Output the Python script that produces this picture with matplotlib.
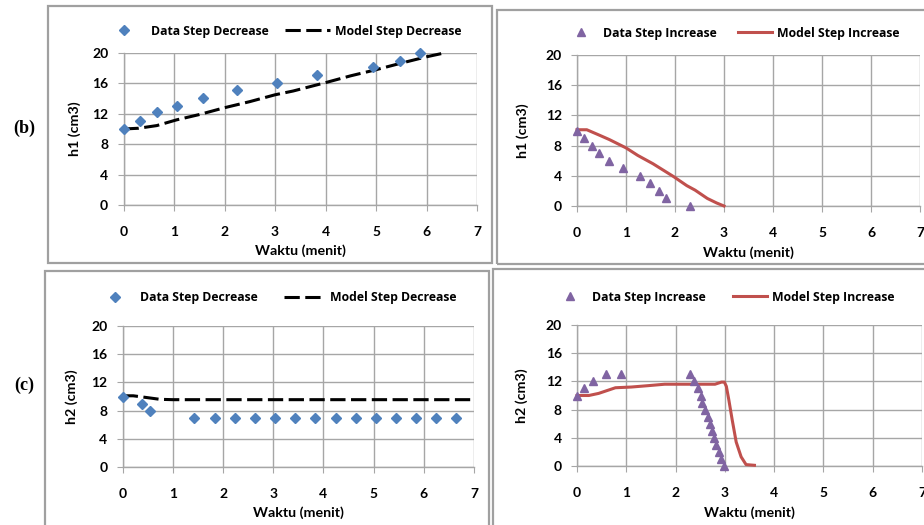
"""
Step response h1/h2 - data vs model (b), (c)
"""
import matplotlib
matplotlib.use("Agg")
import matplotlib.pyplot as plt
from matplotlib.patches import Rectangle

plt.rcParams['font.family'] = ['Lato', 'DejaVu Sans']

#=== Data: h1, step decrease ===
h1_dec_t = [0, 0.32, 0.66, 1.05, 1.58, 2.24, 3.03, 3.84, 4.95, 5.47, 5.87]
h1_dec_y = [10, 11.1, 12.2, 13.0, 14.1, 15.1, 16.0, 17.1, 18.1, 19.0, 20.0]
h1_dec_model_t = [0, 0.3, 0.66, 1.05, 1.5, 2.0, 2.5, 3.0, 3.36, 4.0, 4.5, 5.0, 5.46, 6.0, 6.35]
h1_dec_model_y = [10, 10.1, 10.45, 11.2, 11.9, 12.8, 13.6, 14.5, 15.0, 16.1, 17.0, 17.8, 18.6, 19.5, 20.0]

#=== Data: h1, step increase ===
h1_inc_t = [0, 0.15, 0.31, 0.44, 0.66, 0.93, 1.28, 1.49, 1.68, 1.81, 2.30]
h1_inc_y = [10, 9, 8, 7, 6, 5, 4, 3, 2, 1, 0]
h1_inc_model_t = [0, 0.2, 0.45, 0.66, 1.0, 1.24, 1.55, 1.97, 2.24, 2.41, 2.66, 2.85, 3.0]
h1_inc_model_y = [10.1, 10.1, 9.4, 8.8, 7.7, 6.7, 5.6, 3.9, 2.7, 2.1, 1.0, 0.4, 0]

#=== Data: h2, step decrease ===
h2_dec_t = [0, 0.38, 0.54, 1.42, 1.84, 2.24, 2.64, 3.04, 3.43, 3.83, 4.25, 4.65, 5.05, 5.44, 5.84, 6.24, 6.64]
h2_dec_y = [10, 9, 8, 7, 7, 7, 7, 7, 7, 7, 7, 7, 7, 7, 7, 7, 7]
h2_dec_model_t = [0, 0.21, 0.48, 0.74, 1.0, 2.0, 3.0, 4.0, 5.0, 6.0, 7.0]
h2_dec_model_y = [10.1, 10.1, 9.85, 9.6, 9.55, 9.55, 9.55, 9.55, 9.55, 9.55, 9.55]

#=== Data: h2, step increase ===
h2_inc_t = [0, 0.14, 0.33, 0.59, 0.89, 2.29, 2.37, 2.46, 2.51, 2.54, 2.60, 2.66, 2.70, 2.73,
            2.78, 2.83, 2.88, 2.93, 2.99]
h2_inc_y = [10, 11, 12, 13, 13, 13, 12, 11, 10, 9, 8, 7, 6, 5, 4, 3, 2, 1, 0]
h2_inc_model_t = [0, 0.24, 0.44, 0.78, 1.1, 1.45, 1.78, 2.8, 2.93, 2.99, 3.03, 3.08, 3.15,
                  3.23, 3.33, 3.43, 3.6]
h2_inc_model_y = [10.0, 10.0, 10.3, 11.1, 11.2, 11.4, 11.6, 11.6, 11.9, 11.9, 11.3, 9.4, 6.5,
                  3.4, 1.3, 0.2, 0.1]

X_TICKS = list(range(0, 8))
Y_TICKS = list(range(0, 21, 4))

#=== Styles ===
W, H = 924, 525
GRID = '#a6a6a6'
BLUE = '#4f81bd'
PURPLE = '#8064a2'
RED = '#c0504d'
DASH = (5, 1.8)
LEG_FONT = {'family': 'Open Sans', 'weight': 'bold', 'size': 8.8}

fig = plt.figure(figsize=(W / 100, H / 100), dpi=100, facecolor='white')

def px_rect(x0, y0, x1, y1):
    # pixel box (top-left origin) -> figure fraction [l, b, w, h]
    return [x0 / W, 1 - y1 / H, (x1 - x0) / W, (y1 - y0) / H]

# panel frames
for x0, y0, x1, y1 in [(48, 6, 492, 263), (497, 10, 940, 264),
                       (45, 271, 489, 540), (493, 269, 940, 540)]:
    l, b, w, h = px_rect(x0, y0, x1, y1)
    fig.patches.append(Rectangle((l, b), w, h, transform=fig.transFigure,
                                 fill=False, edgecolor='#a0a0a0', lw=1.6))

def setup_axes(box, ylabel, xlab_y, ylab_x):
    ax = fig.add_axes(px_rect(*box))
    ax.set_xlim(0, 7)
    ax.set_ylim(0, 20)
    ax.set_xticks(X_TICKS)
    ax.set_yticks(Y_TICKS)
    ax.grid(True, color=GRID, lw=1.0)
    ax.set_axisbelow(True)
    for s in ['top', 'right']:
        ax.spines[s].set_visible(False)
    for s in ['left', 'bottom']:
        ax.spines[s].set_color(GRID)
        ax.spines[s].set_linewidth(1.0)
    ax.tick_params(axis='x', direction='out', length=4, color=GRID, pad=11,
                   labelsize=10)
    ax.tick_params(axis='y', direction='out', length=4, color=GRID, pad=7,
                   labelsize=10)
    for lab in ax.get_xticklabels() + ax.get_yticklabels():
        lab.set_fontweight('bold')
    ax.set_xlabel('Waktu (menit)', fontsize=10.3, fontweight='bold')
    ax.set_ylabel(ylabel, fontsize=10.3, fontweight='bold')
    ax.xaxis.set_label_coords(0.5, xlab_y)
    ax.yaxis.set_label_coords(ylab_x, 0.5)
    ax.xaxis.label.set_va('center')
    ax.yaxis.label.set_va('center')
    return ax

def add_legend(ax, x_start, cy, hlen, colsp):
    ax.legend(loc='center left', bbox_to_anchor=(x_start / W, 1 - cy / H),
              bbox_transform=fig.transFigure, ncol=2, frameon=False,
              prop=LEG_FONT, handlelength=hlen, borderpad=0, borderaxespad=0,
              columnspacing=colsp, handletextpad=0.4)

#=== (b) h1 step decrease ===
ax1 = setup_axes((123.5, 53, 477, 205), 'h1 (cm3)', -0.30, -0.137)
ax1.plot(h1_dec_t, h1_dec_y, 'D', color=BLUE, ms=5, lw=0,
         label='Data Step Decrease', clip_on=False, zorder=4)
ax1.plot(h1_dec_model_t, h1_dec_model_y, '--', color='black', lw=2.2,
         dashes=DASH, label='Model Step Decrease', clip_on=False, zorder=3)
add_legend(ax1, 101, 31, 3.7, 1.3)

#=== (b) h1 step increase ===
ax2 = setup_axes((577, 55, 920, 206), 'h1 (cm3)', -0.31, -0.157)
ax2.plot(h1_inc_t, h1_inc_y, '^', color=PURPLE, ms=5.5, lw=0,
         label='Data Step Increase', clip_on=False, zorder=4)
ax2.plot(h1_inc_model_t, h1_inc_model_y, '-', color=RED, lw=2.2,
         label='Model Step Increase', clip_on=False, zorder=3)
add_legend(ax2, 564, 33, 2.8, 1.7)

#=== (c) h2 step decrease ===
ax3 = setup_axes((122.7, 326, 474, 467), 'h2 (cm3)', -0.326, -0.144)
ax3.plot(h2_dec_t, h2_dec_y, 'D', color=BLUE, ms=5, lw=0,
         label='Data Step Decrease', clip_on=False, zorder=4)
ax3.plot(h2_dec_model_t, h2_dec_model_y, '--', color='black', lw=2.2,
         dashes=DASH, label='Model Step Decrease', clip_on=False, zorder=3)
add_legend(ax3, 94, 298, 3.4, 2.1)

#=== (c) h2 step increase ===
ax4 = setup_axes((577, 325, 922, 466), 'h2 (cm3)', -0.333, -0.159)
ax4.plot(h2_inc_t, h2_inc_y, '^', color=PURPLE, ms=5.5, lw=0,
         label='Data Step Increase', clip_on=False, zorder=4)
ax4.plot(h2_inc_model_t, h2_inc_model_y, '-', color=RED, lw=2.2,
         label='Model Step Increase', clip_on=False, zorder=3)
add_legend(ax4, 553, 297, 2.8, 2.2)

# panel tags
fig.text(24 / W, 1 - 128 / H, '(b)', fontsize=13, fontweight='bold',
         family='Liberation Serif', ha='center', va='center')
fig.text(24 / W, 1 - 385 / H, '(c)', fontsize=13, fontweight='bold',
         family='Liberation Serif', ha='center', va='center')

fig.savefig('out.png', dpi=100, facecolor='white')
